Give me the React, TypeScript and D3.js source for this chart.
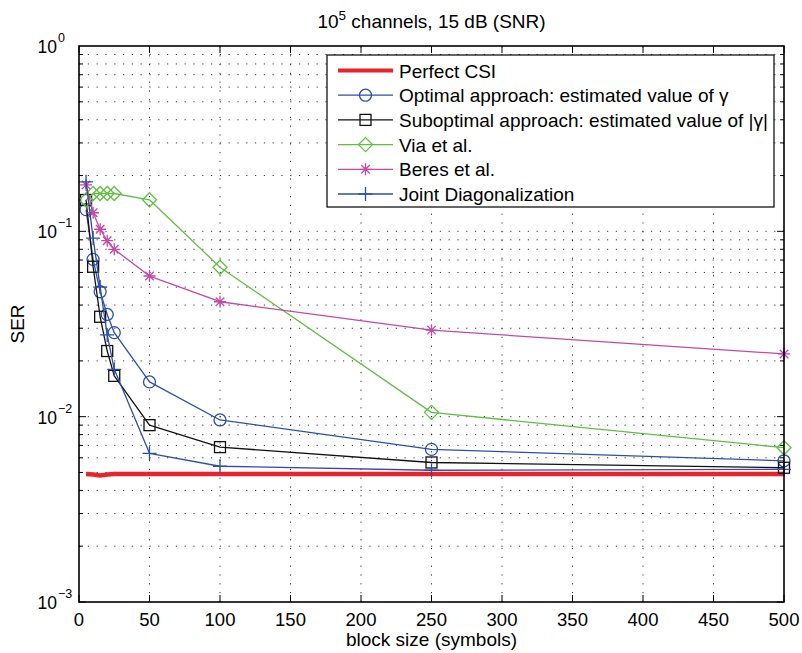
import React, { useEffect, useRef } from "react";
import * as d3 from "d3";

// block sizes (symbols) on the x axis
const blockSizes = [5, 10, 15, 20, 25, 50, 100, 250, 500];

// SER values
const perfectCSI = [0.0049, 0.00488, 0.00482, 0.00487, 0.0049, 0.0049, 0.0049, 0.0049, 0.0049];
const optimal = [0.131, 0.0706, 0.0472, 0.0356, 0.0284, 0.0154, 0.0096, 0.00666, 0.00578];
const suboptimal = [0.1476, 0.0644, 0.0346, 0.0226, 0.0166, 0.009, 0.00685, 0.00566, 0.0053];
const via = [0.1476, 0.16, 0.16, 0.16, 0.16, 0.148, 0.064, 0.01055, 0.0068];
const beres = [0.178, 0.126, 0.1026, 0.089, 0.08, 0.0574, 0.0417, 0.0293, 0.0218];
const jointDiag = [0.185, 0.092, 0.05, 0.0276, 0.018, 0.00634, 0.0054, 0.00514, 0.0052];

const seriesNames = [
  "Perfect CSI",
  "Optimal approach: estimated value of γ",
  "Suboptimal approach: estimated value of |γ|",
  "Via et al.",
  "Beres et al.",
  "Joint Diagonalization",
];

const xTicks = [0, 50, 100, 150, 200, 250, 300, 350, 400, 450, 500];
const yExponents = [0, -1, -2, -3];

const W = 802;
const H = 653;
const margin = { top: 46, right: 18, bottom: 51, left: 79 };

const App = () => {
  const ref = useRef<SVGSVGElement>(null);

  useEffect(() => {
    drawGraph();
  });

  const drawGraph = () => {
    const svg = d3.select(ref.current);
    svg.selectAll("*").remove();

    const font = "'Liberation Sans', Arial, Helvetica, sans-serif";
    const x0 = margin.left;
    const x1 = W - margin.right;
    const y0 = H - margin.bottom;
    const y1 = margin.top;

    const x = d3.scaleLinear().domain([0, 500]).range([x0, x1]);
    const y = d3.scaleLog().domain([1e-3, 1]).range([y0, y1]);

    svg.append("rect").attr("width", W).attr("height", H).attr("fill", "#fff");

    // minor + major y values
    const yAll: number[] = [];
    for (let e = -3; e < 0; e++) {
      for (let m = 1; m <= 9; m++) yAll.push(m * Math.pow(10, e));
    }

    // dotted grid
    const grid = svg.append("g")
      .attr("stroke", "#333")
      .attr("stroke-width", 1)
      .attr("stroke-dasharray", "1.2,7.6");
    grid.selectAll("line.gx")
      .data(xTicks.filter(t => t > 0 && t < 500))
      .join("line")
      .attr("x1", d => x(d)).attr("x2", d => x(d))
      .attr("y1", y0).attr("y2", y1);
    grid.selectAll("line.gy")
      .data(yAll.filter(v => v > 1e-3))
      .join("line")
      .attr("x1", x0).attr("x2", x1)
      .attr("y1", d => y(d)).attr("y2", d => y(d));

    // ticks, inward on every side
    const ticks = svg.append("g").attr("stroke", "#000").attr("stroke-width", 1);
    xTicks.forEach(t => {
      ticks.append("line").attr("x1", x(t)).attr("x2", x(t)).attr("y1", y0).attr("y2", y0 - 7);
      ticks.append("line").attr("x1", x(t)).attr("x2", x(t)).attr("y1", y1).attr("y2", y1 + 7);
    });
    yAll.forEach(v => {
      const major = Math.abs(Math.log10(v) - Math.round(Math.log10(v))) < 1e-9;
      const len = major ? 7 : 4;
      ticks.append("line").attr("x1", x0).attr("x2", x0 + len).attr("y1", y(v)).attr("y2", y(v));
      ticks.append("line").attr("x1", x1).attr("x2", x1 - len).attr("y1", y(v)).attr("y2", y(v));
    });

    // x tick labels
    svg.append("g")
      .selectAll("text")
      .data(xTicks)
      .join("text")
      .attr("x", d => x(d))
      .attr("y", y0 + 24)
      .attr("text-anchor", "middle")
      .attr("font-family", font)
      .attr("font-size", 18.5)
      .text(d => d);

    // y tick labels 10^k
    const yl = svg.append("g").attr("font-family", font);
    yExponents.forEach(e => {
      const yy = y(Math.pow(10, e));
      yl.append("text")
        .attr("x", 57).attr("y", yy + 7)
        .attr("text-anchor", "end")
        .attr("font-size", 17.5)
        .text("10");
      yl.append("text")
        .attr("x", 58).attr("y", yy - 4)
        .attr("font-size", 12.5)
        .text(e === 0 ? "0" : "\u2212" + (-e));
    });

    // title
    const title = svg.append("text")
      .attr("x", (x0 + x1) / 2)
      .attr("y", 28)
      .attr("text-anchor", "middle")
      .attr("font-family", font)
      .attr("font-size", 19);
    title.append("tspan").text("10");
    title.append("tspan").attr("font-size", 13.5).attr("dy", -8).text("5");
    title.append("tspan").attr("dy", 8).text(" channels, 15 dB (SNR)");

    // axis labels
    svg.append("text")
      .attr("x", (x0 + x1) / 2)
      .attr("y", 646)
      .attr("text-anchor", "middle")
      .attr("font-family", font)
      .attr("font-size", 19)
      .text("block size (symbols)");
    svg.append("text")
      .attr("transform", `translate(24,${(y0 + y1) / 2}) rotate(-90)`)
      .attr("text-anchor", "middle")
      .attr("font-family", font)
      .attr("font-size", 19)
      .text("SER");

    const blue = "#2d4fa8";
    const series = [
      { values: perfectCSI, color: "#e8232b", width: 4.5, marker: "none" },
      { values: optimal, color: blue, width: 1.3, marker: "circle" },
      { values: suboptimal, color: "#111", width: 1.3, marker: "square" },
      { values: via, color: "#62bd45", width: 1.3, marker: "diamond" },
      { values: beres, color: "#c24aa2", width: 1.3, marker: "star" },
      { values: jointDiag, color: blue, width: 1.3, marker: "plus" },
    ];

    const drawMarker = (g: any, kind: string, cx: number, cy: number, color: string) => {
      const m = g.append("g").attr("stroke", color).attr("stroke-width", 1.3).attr("fill", "none");
      if (kind === "circle") {
        m.append("circle").attr("cx", cx).attr("cy", cy).attr("r", 6);
      } else if (kind === "square") {
        m.append("rect").attr("x", cx - 5.5).attr("y", cy - 5.5).attr("width", 11).attr("height", 11);
      } else if (kind === "diamond") {
        m.append("path").attr("d", `M${cx},${cy - 7}L${cx + 7},${cy}L${cx},${cy + 7}L${cx - 7},${cy}Z`);
      } else if (kind === "star") {
        const r = 6;
        const d = r * 0.707;
        m.append("path").attr("d",
          `M${cx - r},${cy}H${cx + r}M${cx},${cy - r}V${cy + r}` +
          `M${cx - d},${cy - d}L${cx + d},${cy + d}M${cx - d},${cy + d}L${cx + d},${cy - d}`);
      } else if (kind === "plus") {
        const r = 7;
        m.append("path").attr("d", `M${cx - r},${cy}H${cx + r}M${cx},${cy - r}V${cy + r}`);
      }
    };

    const line = d3.line<number>()
      .x((_, i) => x(blockSizes[i]))
      .y(d => y(d));

    const plot = svg.append("g");
    series.forEach(s => {
      plot.append("path")
        .attr("d", line(s.values))
        .attr("fill", "none")
        .attr("stroke", s.color)
        .attr("stroke-width", s.width)
        .attr("stroke-linejoin", "round");
      if (s.marker !== "none") {
        s.values.forEach((v, i) => drawMarker(plot, s.marker, x(blockSizes[i]), y(v), s.color));
      }
    });

    // frame
    svg.append("rect")
      .attr("x", x0).attr("y", y1)
      .attr("width", x1 - x0).attr("height", y0 - y1)
      .attr("fill", "none")
      .attr("stroke", "#000")
      .attr("stroke-width", 1.6);

    // legend
    const lg = svg.append("g");
    lg.append("rect")
      .attr("x", 327).attr("y", 55)
      .attr("width", 447).attr("height", 152)
      .attr("fill", "#fff")
      .attr("stroke", "#000")
      .attr("stroke-width", 1.2);
    series.forEach((s, i) => {
      const ry = 70.5 + i * 24.7;
      lg.append("line")
        .attr("x1", 338).attr("x2", 393)
        .attr("y1", ry).attr("y2", ry)
        .attr("stroke", s.color)
        .attr("stroke-width", s.marker === "none" ? 4 : 1.3);
      if (s.marker !== "none") drawMarker(lg, s.marker, 365.5, ry, s.color);
      lg.append("text")
        .attr("x", 399).attr("y", ry + 7)
        .attr("font-family", font)
        .attr("font-size", 19)
        .text(seriesNames[i]);
    });
  };

  return (
    <svg ref={ref} width={W} height={H} style={{ position: "absolute", left: 0, top: 0 }} />
  );
};

export default App;
